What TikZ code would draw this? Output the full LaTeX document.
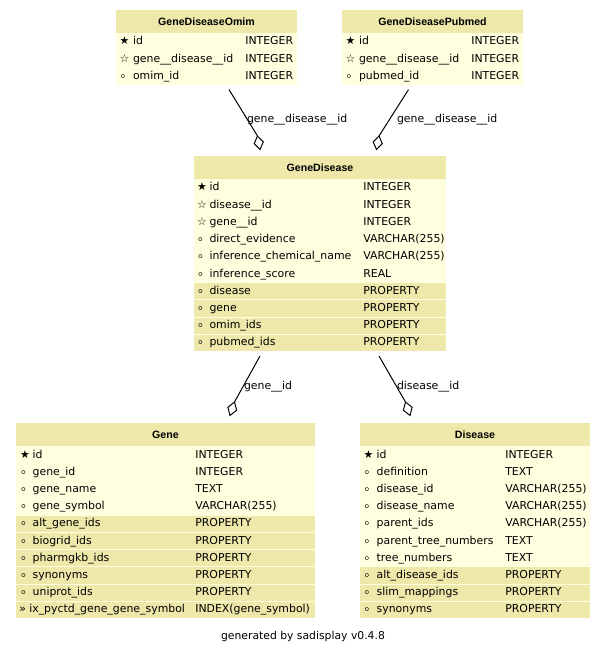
\documentclass[tikz,border=0pt]{standalone}
\usepackage{fontspec}
\setmainfont{DejaVu Sans}
\newfontfamily\hdfont{Liberation Sans}
\usetikzlibrary{calc}

\definecolor{hdcol}{HTML}{EEE8AA}
\definecolor{rowcol}{HTML}{FFFFE0}

\tikzset{
  cell/.style={inner sep=0pt, outer sep=0pt, anchor=base west,
    font=\fontsize{10.9}{12}\selectfont},
  head/.style={inner sep=0pt, outer sep=0pt, anchor=base,
    font=\hdfont\bfseries\fontsize{10.6}{12}\selectfont},
  tablebody/.style={fill=rowcol, draw=none, inner sep=0pt, outer sep=0pt,
    anchor=north west},
  link/.style={line width=1pt, line join=miter},
  linklabel/.style={cell},
}

% table frame: id, left x, top y, width, number of rows, title
\newcommand\dbtable[6]{%
  \def\tid{#1}\def\tx{#2}\def\ty{#3}\def\tw{#4}%
  \pgfmathsetmacro\tabh{23+17.2*#5}%
  \node[tablebody, minimum width=#4pt, minimum height=\tabh pt] (#1) at (#2,#3) {};
  \fill[hdcol] (#2,#3) rectangle ++(#4,23);
  \node[head] (#1-title) at ({#2+#4/2},{#3+15.5}) {#6};
}

% one field row: index, symbol, name, type, shaded (1/0)
\newcommand\dbrow[5]{%
  \pgfmathsetmacro\rt{\ty+23+17.2*#1}%
  \ifnum#5=1 \fill[hdcol] (\tx,{\rt+1}) rectangle ++(\tw,16.2);\fi
  \node[cell] (\tid-s#1) at (\sx,{\rt+12}) {#2};
  \node[cell] (\tid-n#1) at (\nx,{\rt+12}) {#3};
  \node[cell] (\tid-t#1) at (\cx,{\rt+12}) {#4};
}
\newcommand\opt{{\fontsize{8}{8}\selectfont ⚪}}

% connector: start, diamond near vertex, diamond far vertex
\newcommand\aggregation[3]{%
  \draw[link] (#1) -- (#2)
    (#2) -- ($(#2)!0.5!(#3)!4.6pt!90:(#3)$) -- (#3)
    -- ($(#2)!0.5!(#3)!4.6pt!-90:(#3)$) -- cycle;
}

\begin{document}
\begin{tikzpicture}[x=1pt,y=-1pt]
\useasboundingbox[fill=white] (0,0) rectangle (605,652);

% ---- GeneDiseaseOmim
\dbtable{omim}{116}{10}{181}{3}{GeneDiseaseOmim}
\def\sx{119.5}\def\nx{133}\def\cx{245.3}
\dbrow{0}{★}{id}{INTEGER}{0}
\dbrow{1}{☆}{gene\_\_disease\_\_id}{INTEGER}{0}
\dbrow{2}{\opt}{omim\_id}{INTEGER}{0}

% ---- GeneDiseasePubmed
\dbtable{pubmed}{342}{10}{181}{3}{GeneDiseasePubmed}
\def\sx{345.5}\def\nx{359}\def\cx{471.3}
\dbrow{0}{★}{id}{INTEGER}{0}
\dbrow{1}{☆}{gene\_\_disease\_\_id}{INTEGER}{0}
\dbrow{2}{\opt}{pubmed\_id}{INTEGER}{0}

% ---- GeneDisease
\dbtable{gd}{194}{156}{252}{10}{GeneDisease}
\def\sx{197}\def\nx{209.5}\def\cx{363.3}
\dbrow{0}{★}{id}{INTEGER}{0}
\dbrow{1}{☆}{disease\_\_id}{INTEGER}{0}
\dbrow{2}{☆}{gene\_\_id}{INTEGER}{0}
\dbrow{3}{\opt}{direct\_evidence}{VARCHAR(255)}{0}
\dbrow{4}{\opt}{inference\_chemical\_name}{VARCHAR(255)}{0}
\dbrow{5}{\opt}{inference\_score}{REAL}{0}
\dbrow{6}{\opt}{disease}{PROPERTY}{1}
\dbrow{7}{\opt}{gene}{PROPERTY}{1}
\dbrow{8}{\opt}{omim\_ids}{PROPERTY}{1}
\dbrow{9}{\opt}{pubmed\_ids}{PROPERTY}{1}

% ---- Gene
\dbtable{gene}{16}{423}{299}{10}{Gene}
\def\sx{20}\def\nx{32.7}\def\cx{195.3}
\dbrow{0}{★}{id}{INTEGER}{0}
\dbrow{1}{\opt}{gene\_id}{INTEGER}{0}
\dbrow{2}{\opt}{gene\_name}{TEXT}{0}
\dbrow{3}{\opt}{gene\_symbol}{VARCHAR(255)}{0}
\dbrow{4}{\opt}{alt\_gene\_ids}{PROPERTY}{1}
\dbrow{5}{\opt}{biogrid\_ids}{PROPERTY}{1}
\dbrow{6}{\opt}{pharmgkb\_ids}{PROPERTY}{1}
\dbrow{7}{\opt}{synonyms}{PROPERTY}{1}
\dbrow{8}{\opt}{uniprot\_ids}{PROPERTY}{1}
\def\sx{19.3}\def\nx{29.3}
\dbrow{9}{»}{ix\_pyctd\_gene\_gene\_symbol}{INDEX(gene\_symbol)}{1}

% ---- Disease
\dbtable{disease}{360}{423}{230}{10}{Disease}
\def\sx{363.5}\def\nx{376.7}\def\cx{505.3}
\dbrow{0}{★}{id}{INTEGER}{0}
\dbrow{1}{\opt}{definition}{TEXT}{0}
\dbrow{2}{\opt}{disease\_id}{VARCHAR(255)}{0}
\dbrow{3}{\opt}{disease\_name}{VARCHAR(255)}{0}
\dbrow{4}{\opt}{parent\_ids}{VARCHAR(255)}{0}
\dbrow{5}{\opt}{parent\_tree\_numbers}{TEXT}{0}
\dbrow{6}{\opt}{tree\_numbers}{TEXT}{0}
\dbrow{7}{\opt}{alt\_disease\_ids}{PROPERTY}{1}
\dbrow{8}{\opt}{slim\_mappings}{PROPERTY}{1}
\dbrow{9}{\opt}{synonyms}{PROPERTY}{1}

% ---- connector end points
\coordinate (c1a) at ($(omim.south west)+(113,5)$);
\coordinate (c1b) at ($(gd.north west)+(63.5,-20)$);
\coordinate (c1c) at ($(gd.north west)+(66,-6.5)$);
\coordinate (c2a) at ($(pubmed.south west)+(66.5,5)$);
\coordinate (c2b) at ($(gd.north west)+(185,-20)$);
\coordinate (c2c) at ($(gd.north west)+(182.5,-6.5)$);
\coordinate (c3a) at ($(gd.south west)+(66,5)$);
\coordinate (c3b) at ($(gene.north west)+(218.5,-21)$);
\coordinate (c3c) at ($(gene.north west)+(214,-7.5)$);
\coordinate (c4a) at ($(gd.south west)+(185,5)$);
\coordinate (c4b) at ($(disease.north west)+(45.5,-21)$);
\coordinate (c4c) at ($(disease.north west)+(50,-7.5)$);

% ---- connectors with open diamonds
\aggregation{c1a}{c1b}{c1c}
\aggregation{c2a}{c2b}{c2c}
\aggregation{c3a}{c3b}{c3c}
\aggregation{c4a}{c4b}{c4c}

\node[linklabel] (l1) at (247,123) {gene\_\_disease\_\_id};
\node[linklabel] (l2) at (397,123) {gene\_\_disease\_\_id};
\node[linklabel] (l3) at (244,389.5) {gene\_\_id};
\node[linklabel] (l4) at (397,389.5) {disease\_\_id};

% ---- footer
\node[inner sep=0pt, anchor=base, font=\fontsize{10.8}{12}\selectfont] (footer)
  at (303,639.5) {generated by sadisplay v0.4.8};
\end{tikzpicture}
\end{document}
